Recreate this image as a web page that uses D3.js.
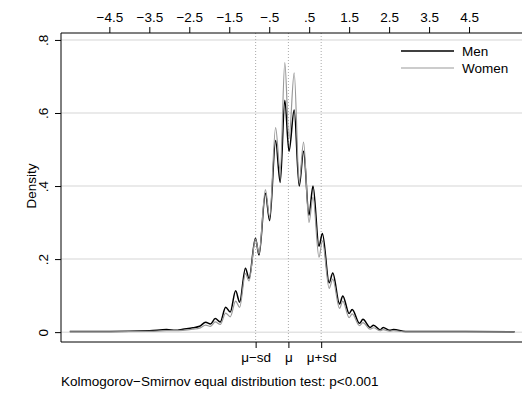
<!DOCTYPE html>
<html>
<head>
<meta charset="utf-8">
<script src="https://cdn.jsdelivr.net/npm/d3@7"></script>
<style>
  body { margin: 0; background: #fff; }
  text { font-family: "Liberation Sans", Arial, sans-serif; fill: #000; }
</style>
</head>
<body>
<div id="chart"></div>
<script>
// density values (x in sd units around the mean)
const xs = [-5.49, -4.49, -3.49, -3.07, -2.84, -2.66, -2.41, -2.24, -2.09, -1.97,
  -1.85, -1.725, -1.59, -1.475, -1.34, -1.24, -1.095, -1.005, -0.845, -0.755,
  -0.595, -0.49, -0.34, -0.225, -0.11, -0.005, 0.125, 0.25, 0.36, 0.495,
  0.595, 0.745, 0.83, 1.0, 1.09, 1.26, 1.34, 1.5, 1.575, 1.76,
  1.845, 2.025, 2.11, 2.275, 2.35, 2.51, 2.61, 2.91, 4.01, 5.64]
const men = [0.002, 0.002, 0.004, 0.007, 0.005, 0.008, 0.012, 0.016, 0.027, 0.022,
  0.037, 0.028, 0.068, 0.055, 0.113, 0.082, 0.175, 0.147, 0.257, 0.211,
  0.38, 0.305, 0.525, 0.41, 0.635, 0.495, 0.608, 0.40, 0.495, 0.32,
  0.40, 0.235, 0.27, 0.135, 0.162, 0.077, 0.099, 0.051, 0.062, 0.024,
  0.035, 0.013, 0.019, 0.006, 0.013, 0.005, 0.007, 0.002, 0.002, 0.001]
const women = [0.001, 0.001, 0.002, 0.004, 0.004, 0.005, 0.008, 0.011, 0.019, 0.016,
  0.028, 0.021, 0.052, 0.042, 0.085, 0.068, 0.16, 0.14, 0.255, 0.215,
  0.39, 0.315, 0.56, 0.44, 0.738, 0.53, 0.71, 0.41, 0.52, 0.30,
  0.37, 0.205, 0.25, 0.12, 0.145, 0.065, 0.085, 0.04, 0.05, 0.018,
  0.026, 0.008, 0.012, 0.004, 0.007, 0.003, 0.004, 0.001, 0.001, 0.001]

const topTicks = [-4.5, -3.5, -2.5, -1.5, -0.5, 0.5, 1.5, 2.5, 3.5, 4.5]
const yTicks = [0, 0.2, 0.4, 0.6, 0.8]
const mu = -0.02
const sd = 0.82
const refLabels = ["μ−sd", "μ", "μ+sd"]
const series = [
  {name: "Men", values: men, color: "#000", width: 1.5},
  {name: "Women", values: women, color: "#999", width: 1.2}
]
const note = "Kolmogorov−Smirnov equal distribution test: p<0.001"

const W = 522, H = 394
const margin = {top: 33, right: 1, bottom: 52, left: 61}
const fontSize = 13.5

const svg = d3.select("#chart").append("svg")
  .attr("width", W)
  .attr("height", H)

const x = d3.scaleLinear()
  .domain([-5.71, 5.8])
  .range([margin.left, W - margin.right])
const y = d3.scaleLinear()
  .domain([-0.027, 0.819])
  .range([H - margin.bottom, margin.top])

// Stata style: drop the leading zero, real minus sign
const fmt = v => {
  if (v == 0) return "0"
  const s = String(Math.abs(v)).replace(/^0\./, ".")
  return (v < 0 ? "−" : "") + s
}

// gridlines
svg.append("g")
  .selectAll("line")
  .data(yTicks)
  .join("line")
    .attr("x1", margin.left)
    .attr("x2", W)
    .attr("y1", d => y(d))
    .attr("y2", d => y(d))
    .attr("stroke", "#e3e3e3")
    .attr("stroke-width", 1.5)

// reference lines at mean and +/- sd
const refs = [mu - sd, mu, mu + sd]
svg.append("g")
  .selectAll("line")
  .data(refs)
  .join("line")
    .attr("x1", d => x(d))
    .attr("x2", d => x(d))
    .attr("y1", margin.top)
    .attr("y2", H - margin.bottom)
    .attr("stroke", "#aaa")
    .attr("stroke-width", 1)
    .attr("stroke-dasharray", "1,2")

// curves
const line = d3.line()
  .x((d, i) => x(xs[i]))
  .y(d => y(d))
  .curve(d3.curveMonotoneX)

svg.append("g")
  .selectAll("path")
  .data(series)
  .join("path")
    .attr("d", d => line(d.values))
    .attr("fill", "none")
    .attr("stroke", d => d.color)
    .attr("stroke-width", d => d.width)
    .attr("stroke-linejoin", "round")

// frame (left, top, bottom)
svg.append("path")
  .attr("d", `M${W},${margin.top}H${margin.left}V${H - margin.bottom}H${W}`)
  .attr("fill", "none")
  .attr("stroke", "#000")
  .attr("stroke-width", 1)

// top axis
const topAxis = svg.append("g")
  .attr("transform", `translate(0,${margin.top})`)
  .call(d3.axisTop(x).tickValues(topTicks).tickFormat(fmt).tickSize(6).tickPadding(5.5))
topAxis.select(".domain").remove()
topAxis.selectAll("text").attr("font-size", fontSize).attr("font-family", null)

// left axis with rotated labels
const leftAxis = svg.append("g")
  .attr("transform", `translate(${margin.left},0)`)
  .call(d3.axisLeft(y).tickValues(yTicks).tickFormat(fmt).tickSize(6))
leftAxis.select(".domain").remove()
leftAxis.selectAll("text")
  .attr("font-size", fontSize)
  .attr("font-family", null)
  .attr("x", null)
  .attr("dy", null)
  .attr("text-anchor", "middle")
  .attr("transform", "translate(-13,0) rotate(-90)")

svg.append("text")
  .attr("transform", `translate(36,${y(0.4)}) rotate(-90)`)
  .attr("text-anchor", "middle")
  .attr("font-size", fontSize)
  .text("Density")

// bottom axis: mean and sd markers
const bottomAxis = svg.append("g")
  .attr("transform", `translate(0,${H - margin.bottom})`)
  .call(d3.axisBottom(x).tickValues(refs).tickFormat((d, i) => refLabels[i]).tickSize(6).tickPadding(4))
bottomAxis.select(".domain").remove()
bottomAxis.selectAll("text").attr("font-size", fontSize).attr("font-family", null)

// legend
const legend = svg.append("g")
  .attr("transform", "translate(401,51)")
legend.selectAll("line")
  .data(series)
  .join("line")
    .attr("x1", 0)
    .attr("x2", 53)
    .attr("y1", (d, i) => i * 17)
    .attr("y2", (d, i) => i * 17)
    .attr("stroke", d => d.color)
    .attr("stroke-width", d => d.width)
legend.selectAll("text")
  .data(series)
  .join("text")
    .attr("x", 61)
    .attr("y", (d, i) => i * 17 + 5)
    .attr("font-size", fontSize)
    .text(d => d.name)

svg.append("text")
  .attr("x", margin.left)
  .attr("y", 386)
  .attr("font-size", fontSize)
  .text(note)
</script>
</body>
</html>
